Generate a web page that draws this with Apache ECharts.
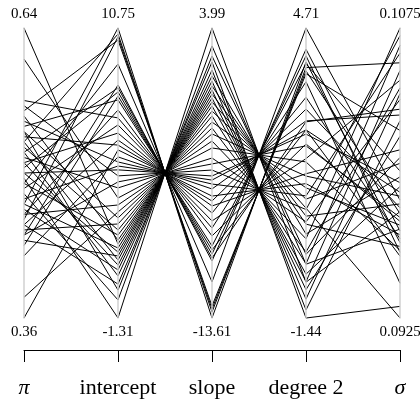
<!DOCTYPE html>
<html>
<head>
<meta charset="utf-8">
<script src="https://cdn.jsdelivr.net/npm/echarts@6/dist/echarts.min.js"></script>
<style>
html, body { margin: 0; padding: 0; background: #fff; }
#container { width: 420px; height: 400px; }
</style>
</head>
<body>
<div id="container"></div>
<script>
// axes
var dims = ['π', 'intercept', 'slope', 'degree 2', 'σ'];
var axisMin = [0.36, -1.31, -13.61, -1.44, 0.0925];
var axisMax = [0.64, 10.75, 3.99, 4.71, 0.1075];
var topLabels = ['0.64', '10.75', '3.99', '4.71', '0.1075'];
var bottomLabels = ['0.36', '-1.31', '-13.61', '-1.44', '0.0925'];

// one value per line on each axis
var piValues = [0.47, 0.53, 0.455, 0.56, 0.49, 0.44, 0.52, 0.505, 0.43, 0.545, 0.46, 0.57, 0.485, 0.51, 0.45,
	0.535, 0.36, 0.42, 0.55, 0.475, 0.50, 0.565, 0.44, 0.515, 0.61, 0.46, 0.38, 0.54, 0.445, 0.525, 0.49,
	0.555, 0.64, 0.47, 0.50, 0.435, 0.53, 0.51, 0.465, 0.52, 0.45, 0.54, 0.48, 0.495];
var interceptValues = [10.75, 10.50, 10.38, 10.25, 9.25, 8.38, 8.26, 8.09, 7.92, 7.76, 7.34, 7.01, 6.72, 6.38,
	6.09, 5.88, 5.68, 5.39, 5.18, 5.01, 4.85, 4.60, 4.35, 4.10, 3.68, 3.39, 3.10, 2.85, 2.60, 2.35, 2.14,
	1.93, 1.77, 1.60, 1.43, 1.27, 1.10, 0.89, 0.69, 0.44, 0.10, -0.15, -0.56, -1.31];
var slopeValues = [-13.61, -13.25, -13.06, -12.88, -11.42, -10.15, -9.97, -9.73, -9.48, -9.24, -8.63, -8.15,
	-7.72, -7.24, -6.81, -6.51, -6.21, -5.78, -5.48, -5.24, -4.99, -4.63, -4.26, -3.90, -3.29, -2.87, -2.44,
	-2.08, -1.72, -1.35, -1.05, -0.74, -0.50, -0.26, -0.02, 0.23, 0.47, 0.77, 1.08, 1.44, 1.93, 2.29, 2.90, 3.99];
var degree2Values = [3.99, 3.87, 3.80, 3.74, 4.71, 4.26, 2.72, 4.12, 2.55, 3.95, 2.25, 3.57, 1.94, 3.24, 1.62,
	2.99, 1.41, 2.74, 1.15, 2.55, 2.46, 0.86, 2.21, 0.60, 1.87, 0.24, 1.57, -0.04, 1.32, -0.29, 1.08, -0.51,
	0.89, -0.67, 0.72, -0.84, 0.55, -1.04, 0.34, -1.27, -1.44, -0.09, -0.30, -0.68];
var sigmaValues = [0.0964, 0.1057, 0.0979, 0.1022, 0.0986, 0.0970, 0.1033, 0.0959, 0.0990, 0.1001, 0.0975,
	0.0943, 0.1048, 0.0966, 0.1012, 0.0982, 0.0968, 0.1030, 0.1062, 0.0957, 0.0995, 0.1071, 0.0977, 0.1038,
	0.0960, 0.1075, 0.0988, 0.1044, 0.0973, 0.1066, 0.1005, 0.0993, 0.0925, 0.1053, 0.0984, 0.1019, 0.0962,
	0.1041, 0.0998, 0.1027, 0.0931, 0.1008, 0.0971, 0.0980];

var serif = 'Liberation Serif';

function buildLines() {
	var rows = [];
	for (var i = 0; i < piValues.length; i++) {
		rows.push([piValues[i], interceptValues[i], slopeValues[i], degree2Values[i], sigmaValues[i]]);
	}
	return rows;
}

function buildAxes() {
	return dims.map(function (d, i) {
		return {
			dim: i,
			min: axisMin[i],
			max: axisMax[i],
			name: topLabels[i],
			nameLocation: 'end',
			nameGap: 6,
			nameTextStyle: { color: '#000', fontFamily: serif, fontSize: 15 },
			axisLine: { lineStyle: { color: '#d0d0d0', width: 1.5 } },
			axisTick: { show: false },
			axisLabel: {
				customValues: [axisMin[i]],
				formatter: function () { return bottomLabels[i]; },
				color: '#000',
				fontFamily: serif,
				fontSize: 15,
				align: 'center',
				verticalAlign: 'top',
				margin: 0,
				padding: [7, 0, 0, 0]
			}
		};
	});
}

var chart = echarts.init(document.getElementById('container'));
var option = {
	animation: false,
	backgroundColor: '#fff',
	parallel: {
		left: 24,
		right: 20,
		top: 28,
		bottom: 82
	},
	parallelAxis: buildAxes(),
	//bottom bracket with the names
	grid: { left: 24, right: 20, top: 340, height: 10 },
	xAxis: {
		type: 'category',
		data: dims,
		boundaryGap: false,
		axisLine: { lineStyle: { color: '#000', width: 1 } },
		axisTick: { show: true, length: 12, interval: 0, lineStyle: { color: '#000' } },
		axisLabel: {
			interval: 0,
			margin: 27,
			color: '#000',
			fontFamily: serif,
			fontSize: 22,
			formatter: function (v) {
				return (v === 'π' || v === 'σ') ? '{i|' + v + '}' : v;
			},
			rich: {
				i: { fontStyle: 'italic', fontFamily: serif, fontSize: 22, color: '#000' }
			}
		}
	},
	yAxis: { type: 'value', show: false },
	series: [{
		type: 'parallel',
		silent: true,
		lineStyle: { color: '#000', width: 1, opacity: 1 },
		data: buildLines()
	}]
};
chart.setOption(option);
</script>
</body>
</html>
